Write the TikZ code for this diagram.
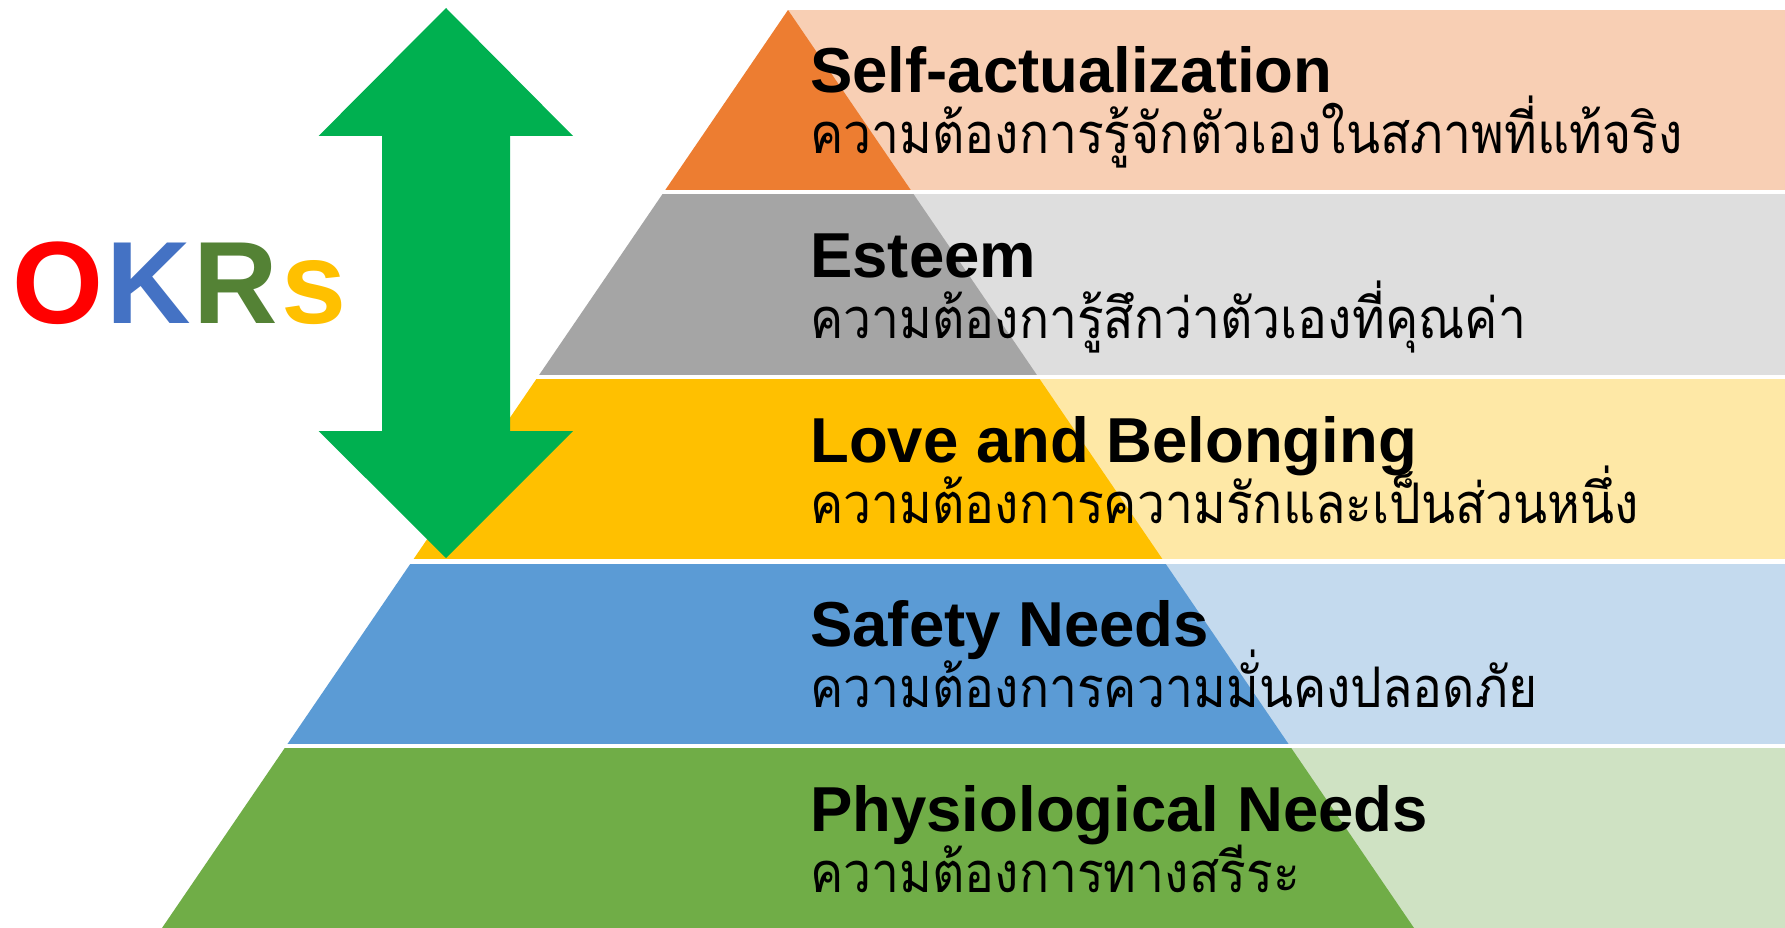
\documentclass[tikz,border=0pt]{standalone}
\usepackage{fontspec}
\setmainfont{Liberation Sans}
\newfontfamily\thaifont[Script=Thai,FakeStretch=0.89]{Loma}
\usetikzlibrary{positioning}

\definecolor{selfdark}{HTML}{ED7D31}
\definecolor{selflight}{HTML}{F8CFB4}
\definecolor{esteemdark}{HTML}{A5A5A5}
\definecolor{esteemlight}{HTML}{DEDEDE}
\definecolor{lovedark}{HTML}{FFC000}
\definecolor{lovelight}{HTML}{FEE8A6}
\definecolor{safedark}{HTML}{5B9BD5}
\definecolor{safelight}{HTML}{C4DAEE}
\definecolor{physdark}{HTML}{70AD47}
\definecolor{physlight}{HTML}{CFE2C3}
\definecolor{arrowgreen}{HTML}{00B050}
\definecolor{okrred}{HTML}{FF0000}
\definecolor{okrblue}{HTML}{4472C4}
\definecolor{okrgreen}{HTML}{548235}
\definecolor{okryellow}{HTML}{FFC000}

\begin{document}
\begin{tikzpicture}[x=1pt,y=-1pt,
  title/.style={anchor=base west,inner sep=0pt,font=\fontsize{63.5}{70}\selectfont\bfseries},
  thai/.style={anchor=base west,inner sep=0pt,font=\fontsize{56}{64}\selectfont\thaifont}]

\useasboundingbox[fill=white] (0,0) rectangle (1785,928);

% Layers: top of band / dark colour / light colour / name / title / Thai line
\foreach \ytop/\dark/\light/\lname/\en/\thline in {
  10/selfdark/selflight/self/Self-actualization/ความต้องการรู้จักตัวเองในสภาพที่แท้จริง,
  194.5/esteemdark/esteemlight/esteem/Esteem/ความต้องการู้สึกว่าตัวเองที่คุณค่า,
  379/lovedark/lovelight/love/Love and Belonging/ความต้องการความรักและเป็นส่วนหนึ่ง,
  563.5/safedark/safelight/safety/Safety Needs/ความต้องการความมั่นคงปลอดภัย,
  748/physdark/physlight/phys/Physiological Needs/ความต้องการทางสรีระ}
{
\fill[\light] (788,\ytop) rectangle (1785,\ytop+180);
\begin{scope}
\clip (788,10) -- (162,928) -- (1414,928) -- cycle;
\fill[\dark] (0,\ytop) rectangle (1785,\ytop+180);
\end{scope}
\node[title] (\lname) at (810,\ytop+83) {\en};
\node[thai] (\lname-th) at (810,\ytop+144) {\thline};
}

% Double arrow
\fill[arrowgreen] (446,8) -- (573,136) -- (510,136) -- (510,431) -- (573,431)
  -- (446,558) -- (318.6,431) -- (382,431) -- (382,136) -- (318.6,136) -- cycle;

% OKRs
\node[anchor=base west,inner sep=0pt,font=\fontsize{117}{120}\selectfont\bfseries] (okrs) at (12,323)
  {\textcolor{okrred}{O}\hspace{3pt}\textcolor{okrblue}{K}\hspace{3pt}\textcolor{okrgreen}{R}\hspace{3pt}\textcolor{okryellow}{s}};

\end{tikzpicture}
\end{document}
